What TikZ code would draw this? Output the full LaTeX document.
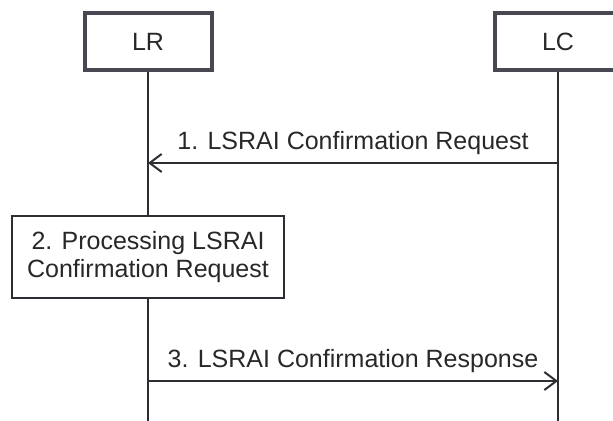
\documentclass[tikz,border=0pt]{standalone}
\usepackage{fontspec}
\setmainfont{Liberation Sans}
\usetikzlibrary{arrows.meta}
\definecolor{boxgray}{RGB}{72,72,82}
\definecolor{linegray}{RGB}{45,45,52}
\definecolor{txtgray}{RGB}{40,40,40}

\begin{document}
\begin{tikzpicture}[x=0.5pt, y=-0.5pt, font=\fontsize{12.5}{14}\selectfont]
    \tikzstyle{entity}=[draw=boxgray, line width=2pt, minimum width=63.5pt, minimum height=28.5pt, text=txtgray]
    \tikzstyle{action}=[draw=linegray, line width=0.8pt, fill=white, minimum width=136pt, minimum height=41pt, align=center, text=txtgray]
    \tikzstyle{life}=[draw=linegray, line width=1pt]
    \tikzstyle{msg}=[draw=linegray, line width=1pt, -{Straight Barb[length=6pt, width=9pt, line width=1pt]}]
    \clip (0,0) rectangle (613,421);
    \node[entity] (lr) at (148,41.5) {LR};
    \node[entity] (lc) at (558,41.5) {LC};
    \node[action] (proc) at (148,257) {2. Processing LSRAI\\Confirmation Request};
    \coordinate (lrend) at (148,421);
    \coordinate (lcend) at (558,421);
    \coordinate (m1) at (0,163);
    \coordinate (m3) at (0,381);
    % lifelines
    \draw[life] (lr.south) -- (proc.north);
    \draw[life] (proc.south) -- (lrend);
    \draw[life] (lc.south) -- (lcend);
    % messages
    \draw[msg] (lc |- m1) -- node[above=0.5pt, text=txtgray] {1. LSRAI Confirmation Request} (lr |- m1);
    \draw[msg] (lr |- m3) -- node[above=0.5pt, text=txtgray] {3. LSRAI Confirmation Response} (lc |- m3);
\end{tikzpicture}
\end{document}
